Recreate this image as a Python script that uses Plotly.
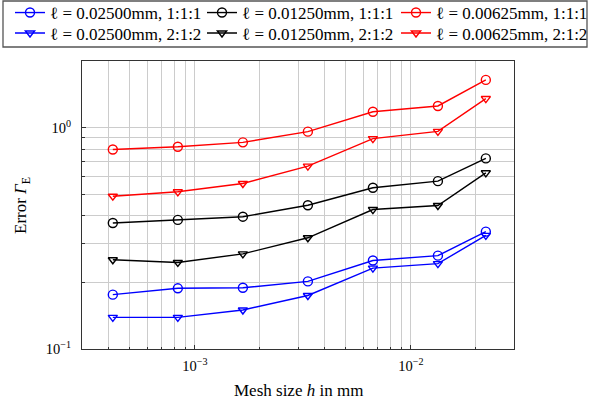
import math
import plotly.graph_objects as go

h = [4.167e-4, 8.333e-4, 1.667e-3, 3.333e-3, 6.667e-3, 1.333e-2, 2.222e-2]

err_025_111 = [0.176, 0.188, 0.189, 0.202, 0.251, 0.264, 0.339]
err_0125_111 = [0.371, 0.383, 0.396, 0.446, 0.535, 0.573, 0.726]
err_00625_111 = [0.797, 0.820, 0.858, 0.959, 1.180, 1.253, 1.643]
err_025_212 = [0.139, 0.139, 0.150, 0.1745, 0.232, 0.243, 0.326]
err_0125_212 = [0.253, 0.246, 0.269, 0.318, 0.4265, 0.445, 0.625]
err_00625_212 = [0.490, 0.513, 0.559, 0.670, 0.892, 0.962, 1.353]

labels = [
    "ℓ = 0.02500mm, 1:1:1", "ℓ = 0.01250mm, 1:1:1", "ℓ = 0.00625mm, 1:1:1",
    "ℓ = 0.02500mm, 2:1:2", "ℓ = 0.01250mm, 2:1:2", "ℓ = 0.00625mm, 2:1:2",
]
series = [err_025_111, err_0125_111, err_00625_111, err_025_212, err_0125_212, err_00625_212]
colors = ["blue", "black", "red", "blue", "black", "red"]
symbols = ["circle-open"] * 3 + ["triangle-down-open"] * 3

x_range = [3e-4, 3e-2]
y_range = [0.1, 2.0]
x_ticks = [1e-3, 1e-2]
x_ticktext = ["10<sup>−3</sup>", "10<sup>−2</sup>"]
y_ticks = [0.1, 1.0]
y_ticktext = ["10<sup>−1</sup>", "10<sup>0</sup>"]
x_minor = [m * 10.0 ** e for e in (-4, -3, -2) for m in range(2, 10)]
y_minor = [m * 10.0 ** e for e in (-1, 0) for m in range(2, 10)]

FONT = "Liberation Serif"
W, H = 590, 402
ML, MR, MT, MB = 82, 76, 61, 53
PW, PH = W - ML - MR, H - MT - MB

def px_to_paper_x(px):
    return (px - ML) / PW

def px_to_paper_y(py):
    return (H - MB - py) / PH

# legend layout: 3 columns x 2 rows, one legend per entry
col_x = [10, 202, 396]
row_y = [13, 33.5]

fig = go.Figure()
legend_layouts = {}
for i, (lab, ys, c, s) in enumerate(zip(labels, series, colors, symbols)):
    lid = "legend" if i == 0 else "legend%d" % (i + 1)
    fig.add_trace(go.Scatter(
        x=h, y=ys, name=lab, mode="lines+markers", legend=lid,
        line=dict(color=c, width=1.4),
        marker=dict(symbol=s, size=9 if "circle" in s else 8, color=c,
                    line=dict(width=1.4, color=c)),
    ))
    legend_layouts[lid] = dict(
        orientation="v", xref="container", yref="container",
        xanchor="left", yanchor="middle",
        x=col_x[i % 3] / W, y=1 - row_y[i // 3] / H,
        borderwidth=0, bgcolor="rgba(0,0,0,0)",
        font=dict(family=FONT, size=17, color="black"),
        itemwidth=30,
    )

def axis(rng, tv, tt, minor_vals, standoff):
    return dict(
        type="log", range=[math.log10(rng[0]), math.log10(rng[1])],
        showline=True, linecolor="#333", linewidth=1, mirror=True,
        showgrid=True, gridcolor="#cccccc", gridwidth=1, zeroline=False,
        ticks="inside", ticklen=4, tickcolor="#333",
        tickvals=tv, ticktext=tt, ticklabelstandoff=standoff,
        tickfont=dict(family=FONT, size=14.5, color="black"),
        minor=dict(tickmode="array", tickvals=minor_vals, ticks="inside",
                   ticklen=2.5, tickcolor="#333",
                   showgrid=True, gridcolor="#cccccc", gridwidth=1),
    )

fig.update_layout(
    width=W, height=H,
    margin=dict(l=ML, r=MR, t=MT, b=MB, autoexpand=False),
    paper_bgcolor="white", plot_bgcolor="white",
    font=dict(family=FONT, size=13, color="black"),
    showlegend=True,
    xaxis=axis(x_range, x_ticks, x_ticktext, x_minor, 4),
    yaxis=axis(y_range, y_ticks, y_ticktext, y_minor, 7),
    annotations=[
        dict(text="Mesh size <i>h</i> in mm", xref="paper", yref="paper",
             x=0.5, y=px_to_paper_y(390), xanchor="center", yanchor="middle",
             showarrow=False, font=dict(family=FONT, size=17, color="black")),
        dict(text="Error <i>Γ</i><sub>E</sub>", xref="paper", yref="paper",
             x=px_to_paper_x(22), y=px_to_paper_y(206), xanchor="center", yanchor="middle",
             textangle=-90, showarrow=False,
             font=dict(family=FONT, size=17, color="black")),
    ],
    shapes=[dict(type="rect", xref="paper", yref="paper",
                 x0=px_to_paper_x(3), x1=px_to_paper_x(587),
                 y0=px_to_paper_y(47), y1=px_to_paper_y(1),
                 line=dict(color="#555", width=1.3), fillcolor="rgba(0,0,0,0)",
                 layer="above")],
)
fig.update_layout(**legend_layouts)

fig.write_html("out.html", config={"displayModeBar": False},
               post_script="document.body.style.margin='0px';")
